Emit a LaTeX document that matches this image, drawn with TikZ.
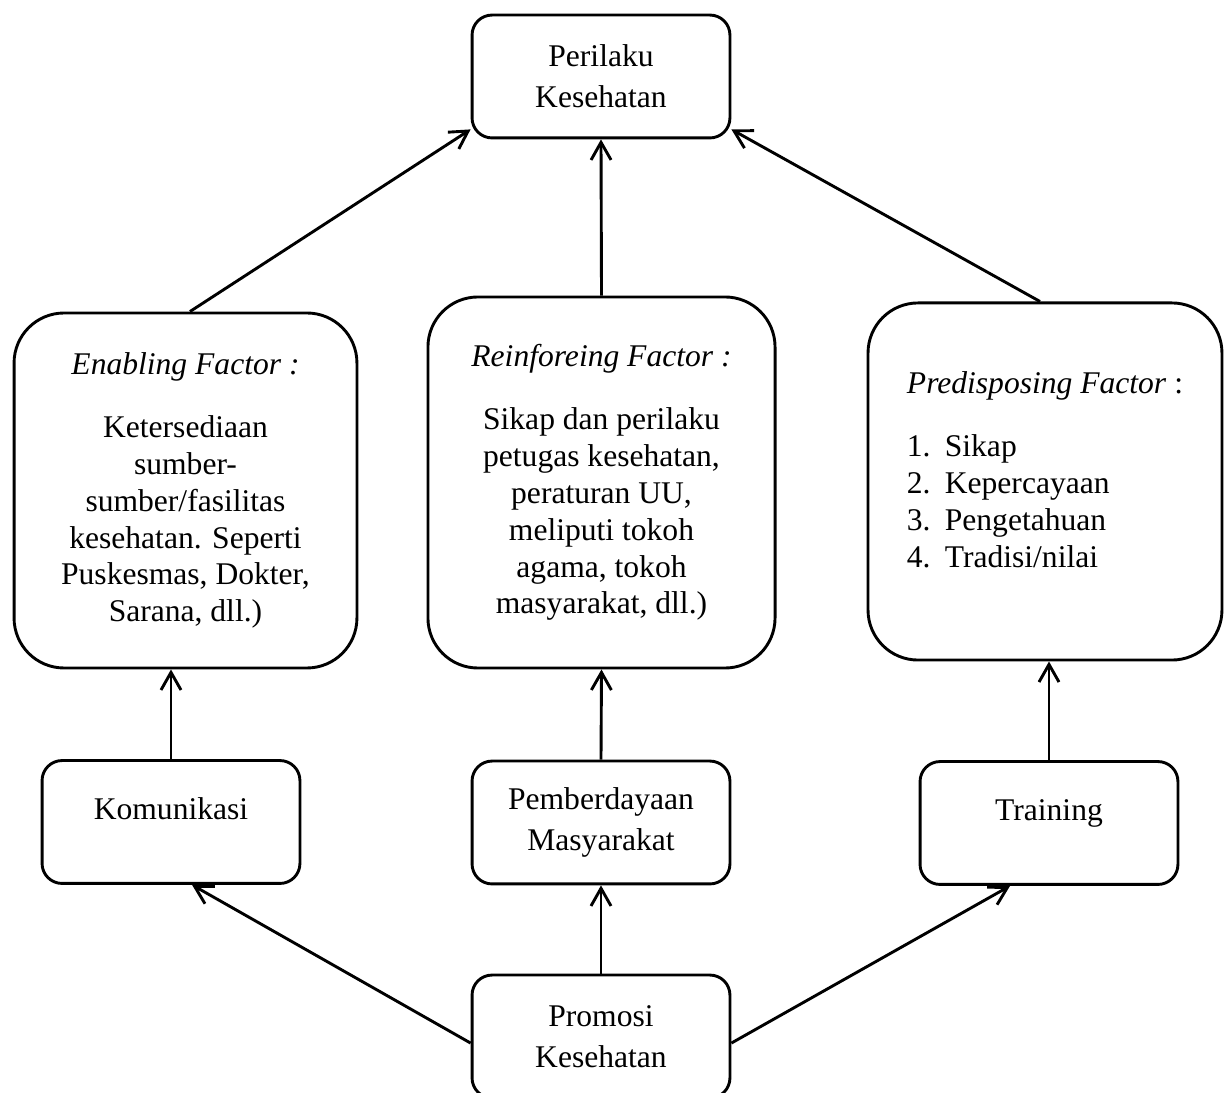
\documentclass[tikz,border=0pt]{standalone}
\usepackage{fontspec}
\setmainfont{Liberation Serif}
\usetikzlibrary{arrows.meta}

\begin{document}
\begin{tikzpicture}[x=0.38pt, y=-0.38pt, line width=1.1pt, line join=round,
  >={Straight Barb[length=6.7pt, width=7.6pt]},
  smallbox/.style={draw, rounded corners=7.6pt, inner sep=0pt, minimum width=98pt,
    minimum height=46.7pt, align=center, font=\fontsize{12}{15.6}\selectfont},
  factorbox/.style={draw, rounded corners=19pt, inner sep=0pt,
    font=\fontsize{12}{14}\selectfont},
  oneline/.style={text height=8pt, text depth=10pt}]
  \useasboundingbox (0,0) rectangle (1224,1093);
  % top: health behaviour
  \node[smallbox] (perilaku) at (601,76.5) {Perilaku\\Kesehatan};
  % the three factors
  \node[factorbox, align=center, minimum width=130.3pt, minimum height=134.9pt]
    (enabling) at (185.5,490.5) {\textit{Enabling Factor :}\\[10pt]
    Ketersediaan\\sumber-\\sumber/fasilitas\\kesehatan. Seperti\\
    Puskesmas, Dokter,\\Sarana, dll.)};
  \node[factorbox, align=center, minimum width=131.9pt, minimum height=141pt]
    (reinforeing) at (601.5,482.5) {\textit{Reinforeing Factor :}\\[10pt]
    Sikap dan perilaku\\petugas kesehatan,\\peraturan UU,\\meliputi tokoh\\
    agama, tokoh\\masyarakat, dll.)};
  \node[factorbox, align=left, minimum width=134.5pt, minimum height=135.7pt]
    (predisposing) at (1045,481.5) {\textit{Predisposing Factor} :\\[10pt]
    \makebox[14.4pt][l]{1.}Sikap\\\makebox[14.4pt][l]{2.}Kepercayaan\\
    \makebox[14.4pt][l]{3.}Pengetahuan\\\makebox[14.4pt][l]{4.}Tradisi/nilai\\[-4.8pt]\mbox{}};
  % the three channels
  \node[smallbox, oneline] (komunikasi) at (171,822) {Komunikasi};
  \node[smallbox] (pemberdayaan) at (601,822.5) {Pemberdayaan\\Masyarakat};
  \node[smallbox, oneline] (training) at (1049,823) {Training};
  % bottom: health promotion
  \node[smallbox] (promosi) at (601,1036.5) {Promosi\\Kesehatan};

  % factors -> behaviour
  \draw[->] ([xshift=1.7pt]enabling.north) -- ([yshift=3.8pt]perilaku.south west);
  \draw[->] (reinforeing.north) -- (perilaku.south);
  \draw[->] ([xshift=-1.9pt]predisposing.north) -- ([yshift=3.8pt]perilaku.south east);
  % channels -> factors
  \draw[->] (komunikasi.north) -- (komunikasi.north |- enabling.south);
  \draw[->] (pemberdayaan.north) -- (reinforeing.south);
  \draw[->] (training.north) -- (training.north |- predisposing.south);
  % promotion -> channels
  \draw[->] ([yshift=-2.5pt]promosi.west) -- ([xshift=8pt]komunikasi.south);
  \draw[->] (promosi.north) -- (pemberdayaan.south);
  \draw[->] ([yshift=-2.5pt]promosi.east) -- ([xshift=-14.8pt]training.south);
\end{tikzpicture}
\end{document}
